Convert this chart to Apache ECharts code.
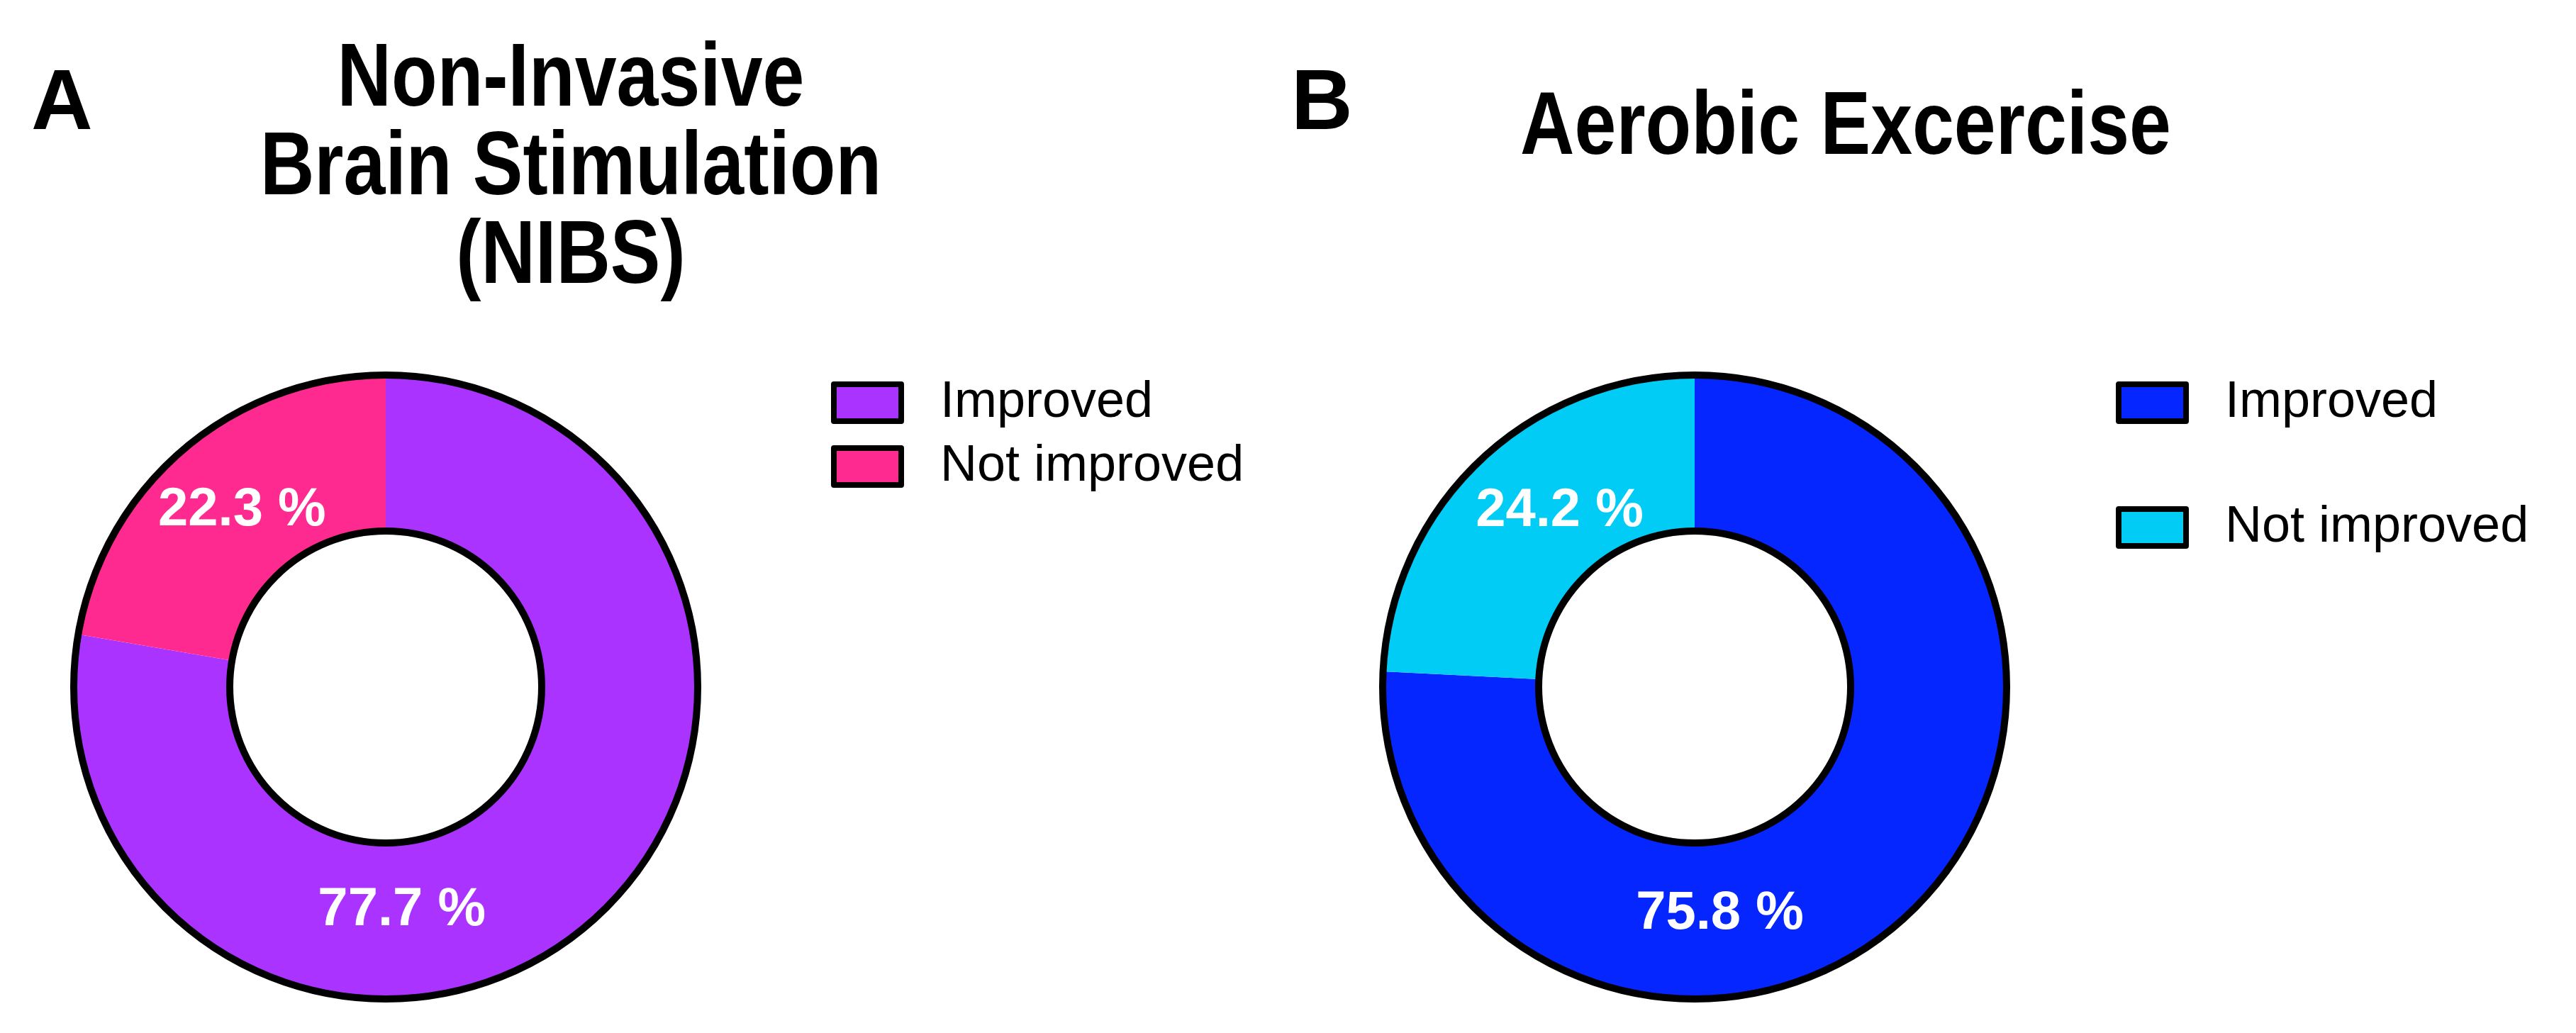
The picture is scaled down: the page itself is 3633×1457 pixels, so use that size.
<!DOCTYPE html>
<html>
<head>
<meta charset="utf-8">
<script src="https://cdn.jsdelivr.net/npm/echarts@6/dist/echarts.min.js"></script>
<style>
  html, body { margin: 0; padding: 0; background: #ffffff; }
  #chart { width: 3633px; height: 1457px; }
</style>
</head>
<body>
<div id="chart"></div>
<script>
// ---- data ----
const categories = ['Improved', 'Not improved'];
const nibsValues = [77.7, 22.3];
const aerobicValues = [75.8, 24.2];
const panelLetters = ['A', 'B'];
const panelTitles = ['Non-Invasive\nBrain Stimulation\n(NIBS)', 'Aerobic Excercise'];

// ---- styles ----
const FONT = '"Liberation Sans", Arial, Helvetica, sans-serif';
const nibsColors = ['#AA33FF', '#FF2A8F'];
const aerobicColors = ['#0526FF', '#00CCF5'];
const RADII = [220, 440];

function pieSeries(name, values, colors, center, labelOffsets) {
  return {
    type: 'pie',
    name: name,
    center: center,
    radius: RADII,
    startAngle: 90,
    clockwise: true,
    avoidLabelOverlap: false,
    silent: true,
    itemStyle: { borderWidth: 0 },
    label: {
      show: true,
      position: 'inside',
      color: '#ffffff',
      fontFamily: FONT,
      fontWeight: 'bold',
      fontSize: 76,
      formatter: p => p.value.toFixed(1) + ' %'
    },
    labelLine: { show: false },
    emphasis: { disabled: true },
    data: categories.map((c, i) => ({
      name: c,
      value: values[i],
      itemStyle: { color: colors[i] },
      label: { offset: labelOffsets[i] }
    })),
    z: 2
  };
}

function outlineSeries(center) {
  return {
    type: 'pie',
    name: 'outline',
    center: center,
    radius: RADII,
    silent: true,
    label: { show: false },
    labelLine: { show: false },
    emphasis: { disabled: true },
    itemStyle: { color: 'rgba(0,0,0,0)', borderColor: '#000000', borderWidth: 10 },
    data: [{ name: 'outline', value: 1 }],
    z: 3
  };
}

function legendFor(left, top, gap, colors) {
  return {
    orient: 'vertical',
    left: left,
    top: top,
    padding: 0,
    itemWidth: 95,
    itemHeight: 52,
    itemGap: gap,
    icon: 'rect',
    selectedMode: false,
    itemStyle: { borderColor: '#000000', borderWidth: 8 },
    textStyle: {
      fontFamily: FONT,
      fontSize: 72,
      lineHeight: 72,
      color: '#000000',
      padding: [0, 0, 0, 50]
    },
    data: categories.map((c, i) => ({ name: c, itemStyle: { color: colors[i] } }))
  };
}

function titleText(text, x, y) {
  // condensed bold heading (narrow face emulated by horizontal scaling)
  return {
    type: 'text',
    x: x,
    y: y,
    scaleX: 0.84,
    silent: true,
    style: {
      text: text,
      fill: '#000000',
      fontFamily: FONT,
      fontWeight: 'bold',
      fontSize: 126,
      lineHeight: 125,
      align: 'center',
      verticalAlign: 'top'
    }
  };
}

const chart = echarts.init(document.getElementById('chart'), null, { renderer: 'canvas' });
chart.setOption({
  backgroundColor: '#ffffff',
  animation: false,
  title: [
    { text: panelLetters[0], left: 44, top: 89, padding: 0,
      textStyle: { fontFamily: FONT, fontWeight: 'bold', fontSize: 120, lineHeight: 120, color: '#000' } },
    { text: panelLetters[1], left: 1821, top: 89, padding: 0,
      textStyle: { fontFamily: FONT, fontWeight: 'bold', fontSize: 120, lineHeight: 120, color: '#000' } }
  ],
  graphic: [
    titleText(panelTitles[0], 805, 52),
    titleText(panelTitles[1], 2603, 120)
  ],
  legend: [
    legendFor(1172, 532, 18, nibsColors),
    legendFor(2984, 532, 104, aerobicColors)
  ],
  series: [
    pieSeries('NIBS', nibsValues, nibsColors, [544, 969], [[-192, 60], [12, 6]]),
    outlineSeries([544, 969]),
    pieSeries('Aerobic', aerobicValues, aerobicColors, [2390, 969], [[-194, 79], [39, -7]]),
    outlineSeries([2390, 969])
  ]
});
</script>
</body>
</html>
